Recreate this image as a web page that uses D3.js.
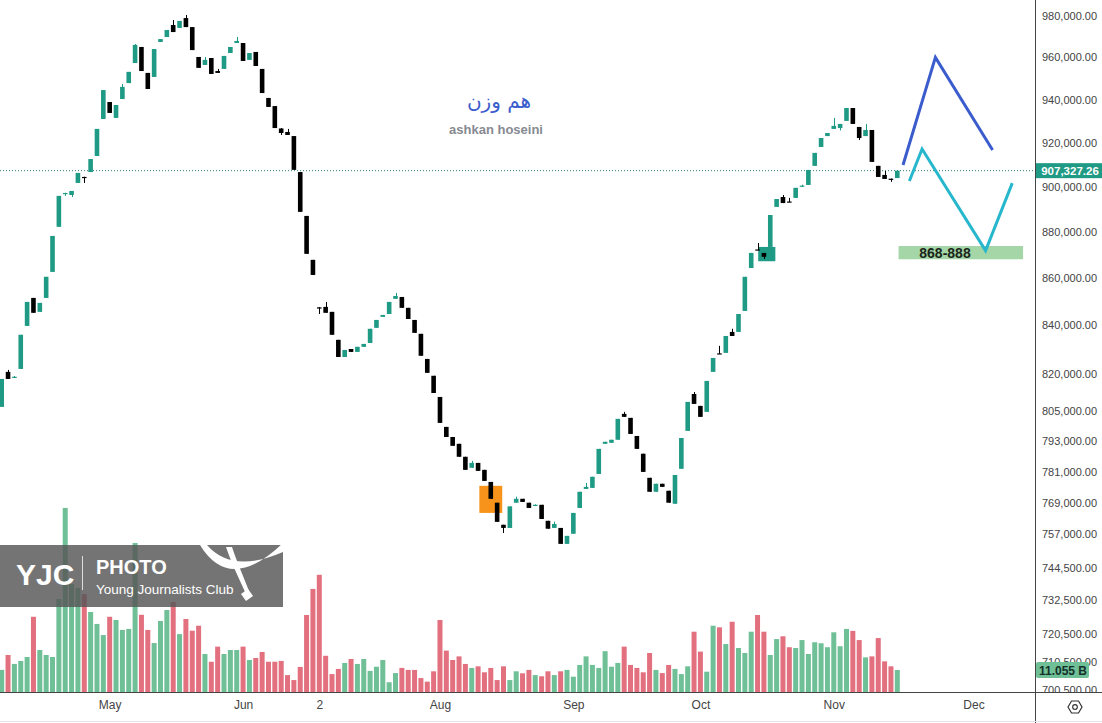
<!DOCTYPE html>
<html lang="en">
<head>
<meta charset="utf-8">
<title>Index chart</title>
<script src="https://cdn.jsdelivr.net/npm/d3@7"></script>
<style>
  body { margin: 0; background: #fff; }
  svg { display: block; font-family: "Liberation Sans", Arial, sans-serif; }
</style>
</head>
<body>
<div id="chart"></div>
<script>
var width = 1102, height = 723;

// daily candles
var open = [806600,820800,818500,822000,839800,851600,845700,851600,862700,882300,
  896900,896400,901800,904500,906700,914000,931000,938900,931500,940300,
  947800,957300,965000,952600,950700,967400,969800,975600,974200,979000,
  974600,960200,956400,959700,953500,954500,962100,966900,966900,958800,
  962600,954500,940800,937000,926600,925000,923100,906700,887100,867900,
  847600,847800,845700,834000,826900,830200,829000,831100,832700,839000,
  843600,844800,851200,852000,847400,842300,836500,826100,819200,810600,
  798600,794600,791900,786800,782500,784400,781700,777000,769000,760600,
  759400,769000,770500,769000,767900,768200,762100,759400,759400,753400,
  757200,767000,774300,774700,780100,791900,792300,793500,803800,802200,
  795000,788000,778600,773200,776300,773600,768600,782100,797000,811800,
  807000,804600,820800,828400,828600,837300,837300,846100,864400,872400,
  870900,873500,891100,895500,893500,895100,900300,900900,909500,918100,
  923100,926400,926800,930100,936100,927300,923100,925900,909500,905400,
  903700,904000];
var high = [817900,821600,819100,836100,849900,851600,849500,860600,878300,896000,
  897400,898200,906300,904600,912600,926400,944500,938900,937500,947400,
  953100,966400,965000,952600,964000,968800,973200,978000,977600,980500,
  974600,960200,960200,959700,954500,960700,965000,969800,966900,962100,
  962600,954500,940800,937000,926800,926400,923100,906700,887100,867900,
  847700,849900,845700,834000,829800,830200,831100,832300,838600,842300,
  844400,849900,853700,852000,847400,842300,836500,826100,819200,810600,
  798600,794600,791900,786800,785200,784400,781700,777000,769000,760600,
  767600,771300,770500,769000,768400,768200,762100,761800,759400,756400,
  765100,773200,776600,779000,789900,792700,793500,801800,804600,802200,
  795000,788000,778600,776300,776300,773600,779700,794200,808600,812600,
  807000,817100,826500,831500,835600,838600,844800,860600,870900,875200,
  870900,887500,894600,896400,895100,899600,901000,907650,915400,922200,
  924500,931500,928700,936100,936100,927300,928700,925900,909500,907200,
  903800,907327.26];
var low = [806600,817900,818300,822000,839800,845300,845700,851600,862700,882300,
  896000,895500,901800,901800,906700,914000,931000,933800,931500,940300,
  947800,957300,953500,945000,950700,967400,969800,972200,974200,974600,
  963500,955000,956400,952100,952600,954500,962100,966900,958300,958800,
  955900,943100,936600,926800,923600,923600,907700,888900,870500,861400,
  844800,845300,836100,826900,826900,829000,829000,831100,832700,839000,
  843600,844800,851200,847400,842700,836900,827400,820400,812200,800200,
  794600,791100,786800,781700,782500,781300,777400,770500,761700,757500,
  759400,769000,769300,767000,767700,762800,759100,759400,753400,753400,
  757200,767000,774300,774700,780100,791900,792300,793500,802600,795800,
  789900,780900,773200,773200,775100,769000,768600,782100,797000,807800,
  802600,804600,820800,828200,828600,835600,837300,846100,864400,872200,
  868300,873500,891100,892800,893300,895100,900000,900900,909500,918100,
  923100,926400,925700,930100,928700,921300,923100,911300,904500,903600,
  902300,904000];
var close = [817900,817900,818800,836100,849900,845300,849500,860600,878300,896000,
  897300,898200,906300,904300,912600,926400,944500,933800,937500,946000,
  953100,966000,953500,945000,964000,968800,973200,972200,977600,974600,
  963500,955000,958800,952100,952600,960700,965000,967900,958300,962100,
  955900,943100,936600,926800,924500,923600,907700,888900,870500,861400,
  847400,845300,836100,826900,829800,829000,831100,832300,838600,842300,
  844400,849900,852400,847400,842700,836900,827400,820400,812200,800200,
  794600,791100,786800,781700,784400,781300,777400,770500,761700,759400,
  767600,770500,769300,767000,768200,762800,759100,760900,753400,756400,
  765100,773200,775100,779000,789900,792700,793500,801800,802600,795800,
  789900,780900,773200,776300,775100,769000,779700,794200,808600,807800,
  802600,817100,826500,828200,835600,835600,844800,860600,870900,872200,
  869200,887500,894600,892800,893300,899600,900600,907650,915400,922200,
  924500,927800,928700,936100,928700,922200,925900,911300,904500,903600,
  903500,907327.26];
// volume, in billions
var volume = [11.1,18.6,14.1,15.6,17.6,37.8,21.1,18.6,17.6,46.7,
  92.5,54.3,52.3,49.2,40.2,34.2,28.6,37.8,36.2,31.2,
  31.7,74.9,38.8,31.2,24.6,35.7,41.2,45.2,29.1,36.7,
  30.8,33.3,19.1,15.2,22.8,19.1,21.1,21.1,22.8,16.1,
  17.1,20.1,15.2,15.2,15.6,8.5,6.0,12.6,38.7,51.8,
  58.9,18.2,9.0,11.6,14.6,16.6,14.1,16.6,10.6,12.7,
  16.1,4.9,9.5,12.1,11.1,11.1,7.0,5.2,10.4,36.2,
  20.8,16.1,17.9,14.1,12.1,12.9,9.9,12.1,6.0,12.9,
  6.0,10.4,9.4,11.1,8.5,7.9,10.4,8.5,10.4,11.1,
  7.7,13.6,17.9,13.6,12.1,20.5,12.7,14.6,22.8,13.6,
  12.1,9.9,19.6,11.1,9.5,13.6,11.6,9.0,12.9,30.3,
  20.3,10.2,33.3,32.5,24.1,35.3,22.1,19.6,30.3,38.7,
  30.3,18.6,26.6,28.0,22.5,22.1,26.1,19.1,25.0,24.5,
  22.5,30.0,23.0,31.7,30.7,26.1,17.4,17.9,27.1,15.4,
  12.9,11.055];

var priceTicks = [980000,960000,940000,920000,900000,880000,860000,840000,820000,805000,
  793000,781000,769000,757000,744500,732500,720500,710500,700500];
var monthTicks = [17, 38, 50, 69, 90, 110, 131, 153];
var monthLabels = ["May", "Jun", "2", "Aug", "Sep", "Oct", "Nov", "Dec"];

// drawings on the chart (bar index, price)
var boxes = [
  {i0: 75.2, i1: 78.8, p0: 765100, p1: 775500, color: "#f7931a"},
  {i0: 119.1, i1: 121.8, p0: 867300, p1: 873500, color: "#1f9a84"}
];
var zone = {i0: 141.2, i1: 160.8, p0: 868150, p1: 873900, label: "868-888"};
var bluePath = [[141.9, 909900], [147, 960000], [156, 916700]];
var cyanPath = [[142.9, 902700], [144.9, 917200], [154.9, 871900], [159.1, 901700]];

var upColor = "#1f9a84", downColor = "#000000";
var volUp = "#6fbf97", volDown = "#e2707f";
var axisX = 1035, baseY = 692;

var svg = d3.select("#chart").append("svg")
  .attr("width", width).attr("height", height);

var x = d3.scaleLinear().domain([0, 141]).range([1.7, 897.3]);
var y = d3.scaleLog().domain([700500, 980000]).range([690, 16]);
var yv = d3.scaleLinear().domain([0, 100]).range([baseY, baseY - 199]);

var idx = d3.range(open.length);
var bw = 4.6;

// last price dotted line
svg.append("line")
  .attr("x1", 0).attr("x2", axisX)
  .attr("y1", y(close[close.length - 1])).attr("y2", y(close[close.length - 1]))
  .attr("stroke", "#2f7f72").attr("stroke-dasharray", "1,2");

// boxes under candles
svg.selectAll("rect.box").data(boxes).enter().append("rect")
  .attr("x", d => x(d.i0)).attr("width", d => x(d.i1) - x(d.i0))
  .attr("y", d => y(d.p1)).attr("height", d => y(d.p0) - y(d.p1))
  .attr("fill", d => d.color);

// volume
svg.selectAll("rect.vol").data(idx).enter().append("rect")
  .attr("x", i => x(i) - 2.5).attr("width", 5)
  .attr("y", i => yv(volume[i])).attr("height", i => baseY - yv(volume[i]))
  .attr("fill", i => close[i] >= open[i] ? volUp : volDown);

// wicks
svg.selectAll("line.wick").data(idx).enter().append("line")
  .attr("x1", i => Math.round(x(i)) + 0.5).attr("x2", i => Math.round(x(i)) + 0.5)
  .attr("y1", i => y(high[i])).attr("y2", i => y(low[i]))
  .attr("stroke", i => close[i] >= open[i] ? upColor : downColor);

// bodies
svg.selectAll("rect.body").data(idx).enter().append("rect")
  .attr("x", i => x(i) - bw / 2).attr("width", bw)
  .attr("y", i => y(Math.max(open[i], close[i])))
  .attr("height", i => Math.max(1.2, Math.abs(y(open[i]) - y(close[i]))))
  .attr("fill", i => close[i] >= open[i] ? upColor : downColor);

// forecast zone
svg.append("rect")
  .attr("x", x(zone.i0)).attr("width", x(zone.i1) - x(zone.i0))
  .attr("y", y(zone.p1)).attr("height", y(zone.p0) - y(zone.p1))
  .attr("fill", "#a5d6a7");
svg.append("text")
  .attr("x", 945).attr("y", (y(zone.p1) + y(zone.p0)) / 2 + 5)
  .attr("text-anchor", "middle").attr("font-size", 14).attr("font-weight", "bold")
  .attr("fill", "#1b261b").text(zone.label);

var line = d3.line().x(d => x(d[0])).y(d => y(d[1]));
svg.append("path").attr("d", line(bluePath))
  .attr("fill", "none").attr("stroke", "#3b5ccc").attr("stroke-width", 3);
svg.append("path").attr("d", line(cyanPath))
  .attr("fill", "none").attr("stroke", "#27b7cd").attr("stroke-width", 3);

// title
svg.append("text").attr("x", 499).attr("y", 108)
  .attr("text-anchor", "middle").attr("font-family", "DejaVu Sans")
  .attr("font-size", 20).attr("fill", "#3b5ccc").text("هم وزن");
svg.append("text").attr("x", 496).attr("y", 134)
  .attr("text-anchor", "middle").attr("font-size", 13).attr("font-weight", "bold")
  .attr("fill", "#878a92").text("ashkan hoseini");

// watermark
var logo = svg.append("g");
logo.append("rect").attr("x", 0).attr("y", 545).attr("width", 283).attr("height", 62)
  .attr("fill", "#555").attr("opacity", 0.82);
logo.append("text").attr("x", 16).attr("y", 585).attr("font-size", 30)
  .attr("font-weight", "bold").attr("fill", "#fff").text("YJC");
logo.append("line").attr("x1", 82.5).attr("x2", 82.5).attr("y1", 556).attr("y2", 590)
  .attr("stroke", "#ddd");
logo.append("text").attr("x", 96).attr("y", 574).attr("font-size", 20)
  .attr("font-weight", "bold").attr("fill", "#fff").text("PHOTO");
logo.append("text").attr("x", 96).attr("y", 594).attr("font-size", 13.5)
  .attr("fill", "#fff").text("Young Journalists Club");
logo.append("path").attr("fill", "#fff")
  .attr("d", "M200,545 Q230,594 283,543 L283,552 Q232,574 207,545 Z");
logo.append("path").attr("fill", "#fff")
  .attr("d", "M226,547 C232,565 240,580 245,592 L249,591 C244,578 237,562 232,547 Z");
logo.append("path").attr("fill", "#fff")
  .attr("d", "M241,594 L248,589 L253,596 L246,601 Z");

// axes frame
svg.append("line").attr("x1", axisX + 0.5).attr("x2", axisX + 0.5)
  .attr("y1", 0).attr("y2", height).attr("stroke", "#444");
svg.append("line").attr("x1", 0).attr("x2", width)
  .attr("y1", baseY + 0.5).attr("y2", baseY + 0.5).attr("stroke", "#444");
svg.append("line").attr("x1", 0).attr("x2", width)
  .attr("y1", 721.5).attr("y2", 721.5).attr("stroke", "#e0e3eb");

// price axis (labels cut off at the time axis line)
svg.append("clipPath").attr("id", "axclip").append("rect")
  .attr("x", axisX + 1).attr("y", 0).attr("width", 70).attr("height", baseY);
var ya = svg.append("g").attr("clip-path", "url(#axclip)")
  .append("g")
  .attr("transform", "translate(" + (axisX + 7) + ",0)")
  .call(d3.axisRight(y).tickValues(priceTicks).tickFormat(d3.format(",.2f")).tickSize(0).tickPadding(0));
ya.select(".domain").remove();
ya.selectAll("text").attr("font-size", 11).attr("fill", "#444")
  .attr("font-family", "Liberation Sans, Arial, sans-serif");

// time axis
var xa = svg.append("g").attr("transform", "translate(0," + (baseY + 8) + ")")
  .call(d3.axisBottom(x).tickValues(monthTicks).tickFormat((d, i) => monthLabels[i]).tickSize(0).tickPadding(0));
xa.select(".domain").remove();
xa.selectAll("text").attr("font-size", 12).attr("fill", "#444")
  .attr("font-family", "Liberation Sans, Arial, sans-serif");

// last price label
var lastY = y(close[close.length - 1]);
svg.append("rect").attr("x", axisX + 1).attr("y", lastY - 7.5).attr("width", 66).attr("height", 15)
  .attr("fill", upColor);
svg.append("text").attr("x", axisX + 35).attr("y", lastY + 4)
  .attr("text-anchor", "middle").attr("font-size", 11.5).attr("font-weight", "bold")
  .attr("fill", "#fff").text(d3.format(",.2f")(close[close.length - 1]));

// last volume label
var lastV = yv(volume[volume.length - 1]);
svg.append("rect").attr("x", axisX + 1).attr("y", lastV - 8).attr("width", 53).attr("height", 16)
  .attr("rx", 2).attr("fill", volUp);
svg.append("text").attr("x", axisX + 28).attr("y", lastV + 4.5)
  .attr("text-anchor", "middle").attr("font-size", 12).attr("font-weight", "bold")
  .attr("fill", "#14302a").text(d3.format(".3f")(volume[volume.length - 1]) + " B");

// settings icon
var ic = svg.append("g").attr("transform", "translate(1075,707)")
  .attr("fill", "none").attr("stroke", "#333").attr("stroke-width", 1.2);
ic.append("path").attr("d", "M-7,0 L-3.5,-6 L3.5,-6 L7,0 L3.5,6 L-3.5,6 Z");
ic.append("circle").attr("r", 2.3);
</script>
</body>
</html>
